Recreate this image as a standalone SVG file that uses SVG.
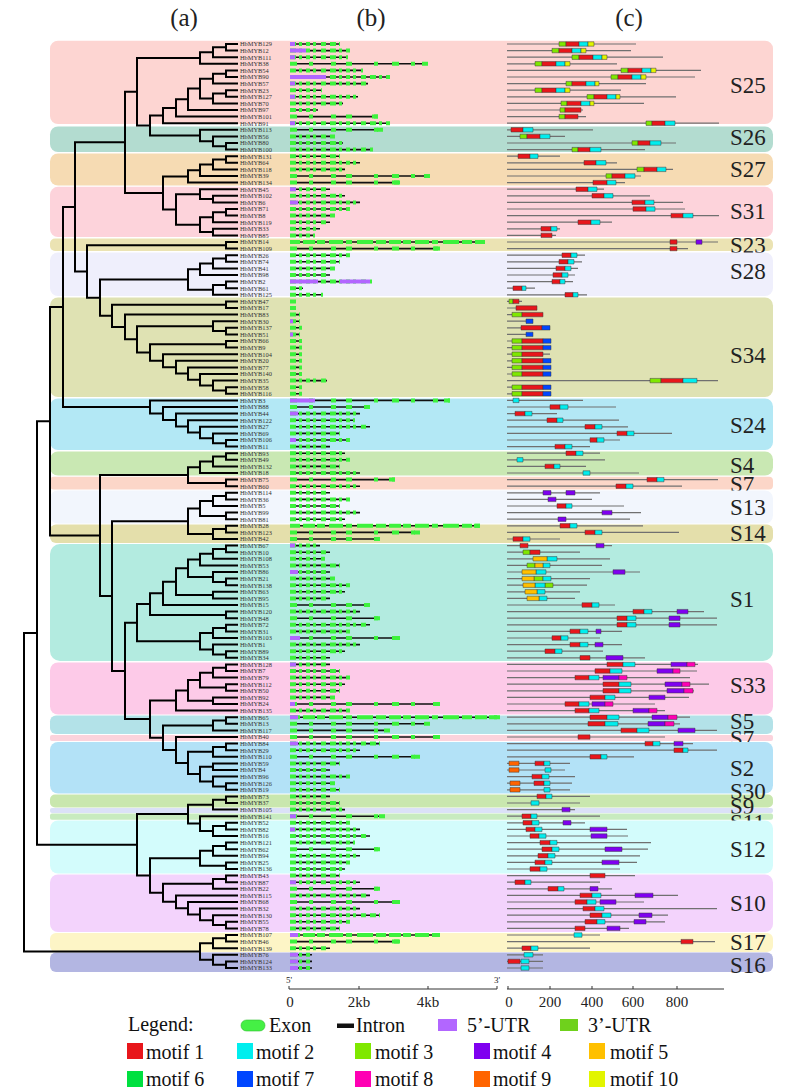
<svg xmlns="http://www.w3.org/2000/svg" width="790" height="1088" viewBox="0 0 790 1088">
<style>
.hd{font-family:"Liberation Serif",serif;font-size:25px;fill:#222;text-anchor:middle}
.sl{font-family:"Liberation Serif",serif;font-size:23px;fill:#222}
.tree{fill:none;stroke:#000;stroke-width:2}
.gl{font-family:"Liberation Serif",serif;font-size:6.4px;fill:#333}
.intron{fill:none;stroke:#111;stroke-width:1.6}
.ex{fill:none;stroke:#3df23d;stroke-width:4}
.exa{stroke-dasharray:6 3 3 4 4 3 3 5 5 4}
.exb{stroke-dasharray:7 12 4 18 5 10 6 22 4 14}
.exc{stroke-dasharray:10 3 12 2 8 4 14 3 6 5 16 3}
.utr{fill:none;stroke:#b266ff;stroke-width:4}
.mline{fill:none;stroke:#707070;stroke-width:1.2}
.m{stroke:#3a3a3a;stroke-width:0.5}
.m1{fill:#e8161b}.m2{fill:#00eeee}.m3{fill:#7fe800}.m4{fill:#7f00f0}.m5{fill:#ffc000}
.m6{fill:#00e040}.m7{fill:#0046ff}.m8{fill:#ff00b4}.m9{fill:#ff6400}.m10{fill:#e2f500}
.ax{fill:none;stroke:#333;stroke-width:1}
.tk{font-family:"Liberation Serif",serif;font-size:15px;fill:#222;text-anchor:middle}
.lg{font-family:"Liberation Serif",serif;font-size:20px;fill:#111}
</style>

<g id="headers">
<text class="hd" x="184" y="26">(a)</text>
<text class="hd" x="371" y="26">(b)</text>
<text class="hd" x="629" y="26">(c)</text>
</g>

<g id="subfamilies">
<g id="S25"><rect x="50" y="40.7" width="723" height="83.3" rx="8" fill="#fdd5d2"/><text class="sl" x="730" y="93">S25</text></g>
<g id="S26"><rect x="50" y="126.5" width="723" height="25.5" rx="8" fill="#b3dcd0"/><text class="sl" x="730" y="145">S26</text></g>
<g id="S27"><rect x="50" y="153.5" width="723" height="32" rx="8" fill="#f6dbb3"/><text class="sl" x="730" y="177">S27</text></g>
<g id="S31"><rect x="50" y="186.8" width="723" height="50.2" rx="8" fill="#fdd3db"/><text class="sl" x="730" y="219">S31</text></g>
<g id="S23"><rect x="50" y="238.5" width="723" height="12.5" rx="5" fill="#ebe3b3"/><text class="sl" x="730" y="253">S23</text></g>
<g id="S28"><rect x="50" y="252.5" width="723" height="43.5" rx="8" fill="#efeffc"/><text class="sl" x="730" y="279">S28</text></g>
<g id="S34"><rect x="50" y="297.5" width="723" height="99.5" rx="8" fill="#dfe2b3"/><text class="sl" x="730" y="363">S34</text></g>
<g id="S24"><rect x="50" y="398.5" width="723" height="51.5" rx="8" fill="#b3e8f5"/><text class="sl" x="730" y="433">S24</text></g>
<g id="S4"><rect x="50" y="451.5" width="723" height="24" rx="8" fill="#c9e8b3"/><text class="sl" x="730" y="473">S4</text></g>
<g id="S7a"><rect x="50" y="476.8" width="723" height="12.7" rx="4" fill="#fcd6c8"/><text class="sl" x="730" y="492">S7</text></g>
<g id="S13"><rect x="50" y="490.5" width="723" height="33" rx="8" fill="#f2f6fd"/><text class="sl" x="730" y="515">S13</text></g>
<g id="S14"><rect x="50" y="524.5" width="723" height="18.5" rx="6" fill="#e4dfab"/><text class="sl" x="730" y="541">S14</text></g>
<g id="S1"><rect x="50" y="544" width="723" height="117" rx="10" fill="#b3ebe0"/><text class="sl" x="730" y="607">S1</text></g>
<g id="S33"><rect x="50" y="662.5" width="723" height="52" rx="8" fill="#fdcae8"/><text class="sl" x="730" y="693">S33</text></g>
<g id="S5"><rect x="50" y="715.5" width="723" height="18.5" rx="6" fill="#b3e2e8"/><text class="sl" x="730" y="729">S5</text></g>
<g id="S7b"><rect x="50" y="735" width="723" height="6" rx="2" fill="#fcd3dc"/><text class="sl" x="730" y="746">S7</text></g>
<g id="S2"><rect x="50" y="742" width="723" height="51.5" rx="8" fill="#b3e2f7"/><text class="sl" x="730" y="776">S2</text></g>
<g id="S30"><rect x="50" y="794.5" width="723" height="13" rx="5" fill="#c9e7ae"/><text class="sl" x="730" y="799">S30</text></g>
<g id="S9"><rect x="50" y="808" width="723" height="5" rx="2" fill="#dbe1f7"/><text class="sl" x="730" y="814">S9</text></g>
<g id="S11"><rect x="50" y="813.5" width="723" height="6.3" rx="2" fill="#c8ebbf"/><text class="sl" x="730" y="830">S11</text></g>
<g id="S12"><rect x="50" y="820.5" width="723" height="53" rx="8" fill="#d3fcfc"/><text class="sl" x="730" y="857">S12</text></g>
<g id="S10"><rect x="50" y="874.5" width="723" height="57.5" rx="8" fill="#f3d3fc"/><text class="sl" x="730" y="911">S10</text></g>
<g id="S17"><rect x="50" y="933" width="723" height="19" rx="6" fill="#fdf5c6"/><text class="sl" x="730" y="950">S17</text></g>
<g id="S16"><rect x="50" y="952.5" width="723" height="19.5" rx="6" fill="#b3b6e2"/><text class="sl" x="730" y="973">S16</text></g>
</g>

<g id="connectors">
<path class="tree" d="M238 44H226V50.6H238M226 47.3H213V57.2H238M213 52.25H200V63.8H238M238 70.4H226V77H238M226 73.7H213V83.6H238M238 90.2H226V96.8H238M226 93.5H213V103.4H238M213 78.65H200V98.45H213M200 88.55H188V110H238M188 99.3H176V116.6H238M176 107.95H163V123.2H238M238 143H226V149.6H238M238 136.4H213V146.3H226M238 129.8H200V141.35H213M163 115.6H150V135.6H200M200 58H137V125.6H150M238 156.2H226V162.8H238M226 159.5H213V169.4H238M213 164.45H200V176H238M200 170.2H188V182.6H238M238 195.8H213V202.4H238M238 189.2H200V199.1H213M238 209H226V215.6H238M226 212.3H213V222.2H238M238 228.8H213V235.4H238M213 217.25H200V232.1H213M200 194.15H176V224.7H200M188 176.4H163V209.4H176M137 91.8H125V192.9H163M238 242H226V248.6H238M238 255.2H226V261.8H238M226 258.5H213V268.4H238M213 263.45H200V275H238M238 281.6H226V288.2H238M226 284.9H213V294.8H238M200 269.2H188V289.85H213M238 301.4H226V308H238M238 327.8H226V334.4H238M238 321.2H213V331.1H226M238 341H226V347.6H238M238 387.2H226V393.8H238M238 380.6H213V390.5H226M238 374H200V385.55H213M238 367.4H188V379.78H200M238 360.8H176V373.59H188M238 354.2H163V367.2H176M226 344.3H150V360.7H163M213 326.15H137V352.5H150M238 314.6H125V339.3H137M226 304.7H112V326.95H125M188 279.5H100V315.8H112M226 245.3H87V297.65H100M125 142.35H75V271.5H87M238 440H226V446.6H238M238 433.4H213V443.3H226M238 426.8H200V438.35H213M238 420.2H188V432.58H200M238 413.6H176V426.39H188M238 407H163V420H176M238 400.4H150V413.5H163M75 206.9H63V406.95H150M238 453.2H226V459.8H238M226 456.5H213V466.4H238M213 461.45H200V473H238M238 479.6H226V486.2H238M200 467.2H188V482.9H226M238 492.8H226V499.4H238M226 496.1H213V506H238M238 512.6H226V519.2H238M213 501.05H200V515.9H226M238 525.8H226V532.4H238M226 529.1H213V539H238M200 508.48H188V534.05H213M238 545.6H226V552.2H238M226 548.9H213V558.8H238M213 553.85H200V565.4H238M238 578.6H226V585.2H238M238 572H213V581.9H226M200 559.6H188V576.95H213M238 591.8H213V598.4H238M188 568.3H176V595.1H213M176 581.7H163V605H238M238 611.6H226V618.2H238M163 593.35H150V614.9H226M238 624.8H226V631.4H238M226 628.1H213V638H238M238 651.2H226V657.8H238M238 644.6H213V654.5H226M213 633.05H200V649.55H213M150 604.1H137V641.3H200M238 664.4H226V671H238M226 667.7H213V677.6H238M238 684.2H226V690.8H238M213 672.65H200V687.5H226M238 697.4H213V704H238M200 680.1H188V700.7H213M188 690.4H176V710.6H238M238 717.2H226V723.8H238M226 720.5H213V730.4H238M238 743.6H226V750.2H238M226 746.9H213V756.8H238M238 763.4H213V770H238M238 783.2H226V789.8H238M238 776.6H213V786.5H226M213 766.7H200V781.55H213M213 751.85H188V774.1H200M238 737H176V763H188M213 725.45H163V750H176M176 700.5H150V737.7H163M137 622.7H125V719.1H150M188 521.3H112V670.9H125M188 475.05H100V596.1H112M63 306.9H50V535.6H100M238 796.4H226V803H238M226 799.7H213V809.6H238M238 822.8H226V829.4H238M226 826.1H213V836H238M238 816.2H200V831.05H213M213 804.65H188V823.6H200M238 842.6H226V849.2H238M226 845.9H213V855.8H238M238 862.4H226V869H238M213 850.85H200V865.7H226M238 875.6H226V882.2H238M226 878.9H213V888.8H238M238 921.8H226V928.4H238M238 915.2H213V925.1H226M238 908.6H200V920.15H213M238 902H188V914.4H200M238 895.4H176V908.2H188M213 883.85H163V901.8H176M200 858.3H150V892.8H163M188 814.1H137V875.55H150M50 421.25H37V844.8H137M238 935H226V941.6H238M226 938.3H213V948.2H238M238 961.4H226V968H238M238 954.8H213V964.7H226M213 943.25H200V959.75H213M37 633H24V951.5H200"/>
</g>

<g id="gene-labels" class="gl">
<text x="240" y="46.3">HbMYB129</text><text x="240" y="52.9">HbMYB12</text><text x="240" y="59.5">HbMYB111</text><text x="240" y="66.1">HbMYB38</text><text x="240" y="72.7">HbMYB54</text><text x="240" y="79.3">HbMYB90</text><text x="240" y="85.9">HbMYB57</text><text x="240" y="92.5">HbMYB23</text><text x="240" y="99.1">HbMYB127</text><text x="240" y="105.7">HbMYB70</text><text x="240" y="112.3">HbMYB97</text><text x="240" y="118.9">HbMYB101</text><text x="240" y="125.5">HbMYB91</text><text x="240" y="132.1">HbMYB113</text><text x="240" y="138.7">HbMYB56</text><text x="240" y="145.3">HbMYB80</text><text x="240" y="151.9">HbMYB100</text><text x="240" y="158.5">HbMYB131</text><text x="240" y="165.1">HbMYB64</text><text x="240" y="171.7">HbMYB118</text><text x="240" y="178.3">HbMYB39</text><text x="240" y="184.9">HbMYB134</text><text x="240" y="191.5">HbMYB45</text><text x="240" y="198.1">HbMYB102</text><text x="240" y="204.7">HbMYB6</text><text x="240" y="211.3">HbMYB71</text><text x="240" y="217.9">HbMYB8</text><text x="240" y="224.5">HbMYB119</text><text x="240" y="231.1">HbMYB33</text><text x="240" y="237.7">HbMYB85</text><text x="240" y="244.3">HbMYB14</text><text x="240" y="250.9">HbMYB109</text><text x="240" y="257.5">HbMYB26</text><text x="240" y="264.1">HbMYB74</text><text x="240" y="270.7">HbMYB41</text><text x="240" y="277.3">HbMYB98</text><text x="240" y="283.9">HbMYB2</text><text x="240" y="290.5">HbMYB61</text><text x="240" y="297.1">HbMYB125</text><text x="240" y="303.7">HbMYB47</text><text x="240" y="310.3">HbMYB17</text><text x="240" y="316.9">HbMYB83</text><text x="240" y="323.5">HbMYB30</text><text x="240" y="330.1">HbMYB137</text><text x="240" y="336.7">HbMYB51</text><text x="240" y="343.3">HbMYB66</text><text x="240" y="349.9">HbMYB9</text><text x="240" y="356.5">HbMYB104</text><text x="240" y="363.1">HbMYB20</text><text x="240" y="369.7">HbMYB77</text><text x="240" y="376.3">HbMYB140</text><text x="240" y="382.9">HbMYB35</text><text x="240" y="389.5">HbMYB58</text><text x="240" y="396.1">HbMYB116</text><text x="240" y="402.7">HbMYB3</text><text x="240" y="409.3">HbMYB88</text><text x="240" y="415.9">HbMYB44</text><text x="240" y="422.5">HbMYB122</text><text x="240" y="429.1">HbMYB27</text><text x="240" y="435.7">HbMYB69</text><text x="240" y="442.3">HbMYB106</text><text x="240" y="448.9">HbMYB11</text><text x="240" y="455.5">HbMYB93</text><text x="240" y="462.1">HbMYB49</text><text x="240" y="468.7">HbMYB132</text><text x="240" y="475.3">HbMYB18</text><text x="240" y="481.9">HbMYB75</text><text x="240" y="488.5">HbMYB60</text><text x="240" y="495.1">HbMYB114</text><text x="240" y="501.7">HbMYB36</text><text x="240" y="508.3">HbMYB5</text><text x="240" y="514.9">HbMYB99</text><text x="240" y="521.5">HbMYB81</text><text x="240" y="528.1">HbMYB28</text><text x="240" y="534.7">HbMYB123</text><text x="240" y="541.3">HbMYB42</text><text x="240" y="547.9">HbMYB67</text><text x="240" y="554.5">HbMYB10</text><text x="240" y="561.1">HbMYB108</text><text x="240" y="567.7">HbMYB53</text><text x="240" y="574.3">HbMYB86</text><text x="240" y="580.9">HbMYB21</text><text x="240" y="587.5">HbMYB138</text><text x="240" y="594.1">HbMYB63</text><text x="240" y="600.7">HbMYB95</text><text x="240" y="607.3">HbMYB15</text><text x="240" y="613.9">HbMYB120</text><text x="240" y="620.5">HbMYB48</text><text x="240" y="627.1">HbMYB72</text><text x="240" y="633.7">HbMYB31</text><text x="240" y="640.3">HbMYB103</text><text x="240" y="646.9">HbMYB1</text><text x="240" y="653.5">HbMYB89</text><text x="240" y="660.1">HbMYB34</text><text x="240" y="666.7">HbMYB128</text><text x="240" y="673.3">HbMYB7</text><text x="240" y="679.9">HbMYB79</text><text x="240" y="686.5">HbMYB112</text><text x="240" y="693.1">HbMYB50</text><text x="240" y="699.7">HbMYB92</text><text x="240" y="706.3">HbMYB24</text><text x="240" y="712.9">HbMYB135</text><text x="240" y="719.5">HbMYB65</text><text x="240" y="726.1">HbMYB13</text><text x="240" y="732.7">HbMYB117</text><text x="240" y="739.3">HbMYB40</text><text x="240" y="745.9">HbMYB84</text><text x="240" y="752.5">HbMYB29</text><text x="240" y="759.1">HbMYB110</text><text x="240" y="765.7">HbMYB59</text><text x="240" y="772.3">HbMYB4</text><text x="240" y="778.9">HbMYB96</text><text x="240" y="785.5">HbMYB126</text><text x="240" y="792.1">HbMYB19</text><text x="240" y="798.7">HbMYB73</text><text x="240" y="805.3">HbMYB37</text><text x="240" y="811.9">HbMYB105</text><text x="240" y="818.5">HbMYB141</text><text x="240" y="825.1">HbMYB52</text><text x="240" y="831.7">HbMYB82</text><text x="240" y="838.3">HbMYB16</text><text x="240" y="844.9">HbMYB121</text><text x="240" y="851.5">HbMYB62</text><text x="240" y="858.1">HbMYB94</text><text x="240" y="864.7">HbMYB25</text><text x="240" y="871.3">HbMYB136</text><text x="240" y="877.9">HbMYB43</text><text x="240" y="884.5">HbMYB87</text><text x="240" y="891.1">HbMYB22</text><text x="240" y="897.7">HbMYB115</text><text x="240" y="904.3">HbMYB68</text><text x="240" y="910.9">HbMYB32</text><text x="240" y="917.5">HbMYB130</text><text x="240" y="924.1">HbMYB55</text><text x="240" y="930.7">HbMYB78</text><text x="240" y="937.3">HbMYB107</text><text x="240" y="943.9">HbMYB46</text><text x="240" y="950.5">HbMYB139</text><text x="240" y="957.1">HbMYB76</text><text x="240" y="963.7">HbMYB124</text><text x="240" y="970.3">HbMYB133</text>
</g>

<g id="gene-structures">
<path class="intron" d="M290 44H340M290 50.6H350M290 57.2H348M290 63.8H428M290 70.4H363M290 77H390M290 83.6H368M290 90.2H322M290 96.8H358M290 103.4H343M290 110H318M290 116.6H378M290 123.2H390M290 129.8H383M290 136.4H335M290 143H343M290 149.6H373M290 156.2H340M290 162.8H360M290 169.4H345M290 176H430M290 182.6H400M290 189.2H330M290 195.8H345M290 202.4H360M290 209H350M290 215.6H335M290 222.2H330M290 228.8H320M290 235.4H315M290 242H485M290 248.6H440M290 255.2H350M290 261.8H340M290 268.4H335M290 275H330M290 281.6H372M290 288.2H303M290 294.8H323M290 301.4H296M290 308H296M290 314.6H300M290 321.2H300M290 327.8H302M290 334.4H300M290 341H302M290 347.6H302M290 354.2H302M290 360.8H302M290 367.4H302M290 374H302M290 380.6H327M290 387.2H302M290 393.8H302M290 400.4H450M290 407H370M290 413.6H360M290 420.2H355M290 426.8H370M290 433.4H340M290 440H350M290 446.6H330M290 453.2H345M290 459.8H350M290 466.4H340M290 473H360M290 479.6H395M290 486.2H360M290 492.8H330M290 499.4H350M290 506H340M290 512.6H360M290 519.2H345M290 525.8H480M290 532.4H420M290 539H380M290 545.6H320M290 552.2H330M290 558.8H325M290 565.4H340M290 572H330M290 578.6H335M290 585.2H350M290 591.8H345M290 598.4H330M290 605H370M290 611.6H360M290 618.2H380M290 624.8H370M290 631.4H350M290 638H400M290 644.6H360M290 651.2H345M290 657.8H330M290 664.4H330M290 671H340M290 677.6H350M290 684.2H345M290 690.8H340M290 697.4H335M290 704H440M290 710.6H350M290 717.2H500M290 723.8H430M290 730.4H390M290 737H440M290 743.6H380M290 750.2H360M290 756.8H420M290 763.4H340M290 770H330M290 776.6H350M290 783.2H335M290 789.8H340M290 796.4H330M290 803H340M290 809.6H345M290 816.2H385M290 822.8H350M290 829.4H360M290 836H370M290 842.6H355M290 849.2H380M290 855.8H360M290 862.4H350M290 869H345M290 875.6H340M290 882.2H360M290 888.8H380M290 895.4H370M290 902H400M290 908.6H360M290 915.2H380M290 921.8H350M290 928.4H340M290 935H440M290 941.6H400M290 948.2H330M290 954.8H312M290 961.4H312M290 968H312"/>
<path class="ex exa" d="M290 44H340M290 50.6H350M290 57.2H348M290 70.4H363M290 77H390M290 83.6H368M290 90.2H322M290 96.8H358M290 103.4H343M290 110H318M290 123.2H390M290 136.4H335M290 143H343M290 149.6H373M290 156.2H340M290 162.8H360M290 169.4H345M290 189.2H330M290 195.8H345M290 202.4H360M290 209H350M290 215.6H335M290 222.2H330M290 228.8H320M290 235.4H315M290 255.2H350M290 261.8H340M290 268.4H335M290 275H330M290 281.6H372M290 288.2H303M290 294.8H323M290 301.4H296M290 308H296M290 314.6H300M290 321.2H300M290 327.8H302M290 334.4H300M290 341H302M290 347.6H302M290 354.2H302M290 360.8H302M290 367.4H302M290 374H302M290 380.6H327M290 387.2H302M290 393.8H302M290 413.6H360M290 420.2H355M290 426.8H370M290 433.4H340M290 440H350M290 446.6H330M290 453.2H345M290 459.8H350M290 466.4H340M290 473H360M290 486.2H360M290 492.8H330M290 499.4H350M290 506H340M290 512.6H360M290 519.2H345M290 545.6H320M290 552.2H330M290 558.8H325M290 565.4H340M290 572H330M290 578.6H335M290 585.2H350M290 591.8H345M290 598.4H330M290 611.6H360M290 624.8H370M290 631.4H350M290 644.6H360M290 651.2H345M290 657.8H330M290 664.4H330M290 671H340M290 677.6H350M290 684.2H345M290 690.8H340M290 697.4H335M290 710.6H350M290 743.6H380M290 750.2H360M290 763.4H340M290 770H330M290 776.6H350M290 783.2H335M290 789.8H340M290 796.4H330M290 803H340M290 809.6H345M290 822.8H350M290 829.4H360M290 836H370M290 842.6H355M290 855.8H360M290 862.4H350M290 869H345M290 875.6H340M290 882.2H360M290 895.4H370M290 908.6H360M290 915.2H380M290 921.8H350M290 928.4H340M290 948.2H330M290 954.8H312M290 961.4H312M290 968H312"/>
<path class="ex exb" d="M290 63.8H428M290 116.6H378M290 129.8H383M290 176H430M290 182.6H400M290 248.6H440M290 400.4H450M290 407H370M290 479.6H395M290 532.4H420M290 539H380M290 605H370M290 618.2H380M290 638H400M290 704H440M290 723.8H430M290 730.4H390M290 737H440M290 756.8H420M290 816.2H385M290 849.2H380M290 888.8H380M290 902H400M290 941.6H400"/>
<path class="ex exc" d="M290 242H485M290 525.8H480M290 717.2H500M290 935H440"/>
<path class="ex" d="M422 63.8H428M372 116.6H378M377 129.8H383M424 176H430M394 182.6H400M434 248.6H440M444 400.4H450M364 407H370M389 479.6H395M414 532.4H420M374 539H380M364 605H370M374 618.2H380M394 638H400M434 704H440M424 723.8H430M384 730.4H390M434 737H440M414 756.8H420M379 816.2H385M374 849.2H380M374 888.8H380M394 902H400M394 941.6H400M479 242H485M474 525.8H480M494 717.2H500M434 935H440"/>
<path class="utr" d="M290 44h5M290 50.6h16M290 57.2h5M290 77h36M290 83.6h5M290 96.8h5M290 123.2h5M290 189.2h6M290 202.4h8M290 281.6h28M340 281.6h30M290 321.2h3M290 334.4h3M290 400.4h25M290 413.6h8M290 440h6M290 545.6h5M290 572h8M290 638h10M290 664.4h6M290 704h5M290 717.2h8M290 743.6h8M290 816.2h6M290 829.4h5M290 882.2h6M290 935h8M290 954.8h8M290 961.4h8M290 968h8"/>
</g>

<g id="motifs">
<path class="mline" d="M507 44H636M507 50.6H631M507 57.2H663M507 63.8H617M507 70.4H701M507 77H695M507 83.6H646M507 90.2H621M507 96.8H676M507 103.4H644M507 110H583M507 116.6H586M507 123.2H719M507 129.8H593M507 136.4H565M507 143H676M507 149.6H645M507 156.2H560M507 162.8H617M507 169.4H673M507 176H641M507 182.6H625M507 189.2H604M507 195.8H650M507 202.4H683M507 209H685M507 215.6H719M507 222.2H612M507 228.8H560M507 235.4H556M507 242H718M507 248.6H688M507 255.2H585M507 261.8H582M507 268.4H578M507 275H575M507 281.6H573M507 288.2H535M507 294.8H587M507 301.4H522M507 308H537M507 314.6H543M507 321.2H533M507 327.8H550M507 334.4H533M507 341H551M507 347.6H551M507 354.2H550M507 360.8H551M507 367.4H551M507 374H551M507 380.6H718M507 387.2H551M507 393.8H551M507 400.4H583M507 407H616M507 413.6H557M507 420.2H619M507 426.8H628M507 433.4H672M507 440H620M507 446.6H590M507 453.2H600M507 459.8H605M507 466.4H586M507 473H639M507 479.6H718M507 486.2H682M507 492.8H600M507 499.4H592M507 506H624M507 512.6H641M507 519.2H630M507 525.8H643M507 532.4H679M507 539H560M507 545.6H612M507 552.2H580M507 558.8H610M507 565.4H602M507 572H640M507 578.6H590M507 585.2H587M507 591.8H580M507 598.4H575M507 605H615M507 611.6H704M507 618.2H717M507 624.8H717M507 631.4H622M507 638H600M507 644.6H622M507 651.2H603M507 657.8H645M507 664.4H698M507 671H697M507 677.6H690M507 684.2H709M507 690.8H694M507 697.4H689M507 704H655M507 710.6H665M507 717.2H690M507 723.8H680M507 730.4H717M507 737H665M507 743.6H693M507 750.2H717M507 756.8H634M507 763.4H570M507 770H565M507 776.6H575M507 783.2H572M507 789.8H570M507 796.4H590M507 803H580M507 809.6H575M507 816.2H600M507 822.8H585M507 829.4H627M507 836H628M507 842.6H651M507 849.2H648M507 855.8H640M507 862.4H637M507 869H620M507 875.6H635M507 882.2H600M507 888.8H612M507 895.4H678M507 902H644M507 908.6H717M507 915.2H668M507 921.8H665M507 928.4H629M507 935H600M507 941.6H715M507 948.2H590M507 954.8H543M507 961.4H543M507 968H543"/>
<path class="m m3" d="M559 41.8h7v4.4h-7zM552 48.4h7v4.4h-7zM572 55h7v4.4h-7zM535 61.6h7v4.4h-7zM621 68.2h7v4.4h-7zM611 74.8h7v4.4h-7zM566 81.4h6v4.4h-6zM535 88h7v4.4h-7zM587 94.6h7v4.4h-7zM561 101.2h6v4.4h-6zM560 107.8h5v4.4h-5zM559 114.4h6v4.4h-6zM646 121h6v4.4h-6zM520 134.2h7v4.4h-7zM632 140.8h6v4.4h-6zM572 147.4h6v4.4h-6zM637 167.2h7v4.4h-7zM606 173.8h6v4.4h-6zM509 299.2h4v4.4h-4zM512 312.4h10v4.4h-10zM512 338.8h10v4.4h-10zM512 345.4h10v4.4h-10zM512 352h10v4.4h-10zM512 358.6h10v4.4h-10zM512 365.2h10v4.4h-10zM512 371.8h10v4.4h-10zM650 378.4h11v4.4h-11zM512 385h10v4.4h-10zM512 391.6h10v4.4h-10zM523 550h7v4.4h-7zM527 563.2h8v4.4h-8zM534 576.4h9v4.4h-9zM545 583h8v4.4h-8z"/>
<path class="m m1" d="M566 41.8h13v4.4h-13zM559 48.4h13v4.4h-13zM579 55h14v4.4h-14zM542 61.6h14v4.4h-14zM628 68.2h14v4.4h-14zM618 74.8h14v4.4h-14zM572 81.4h14v4.4h-14zM542 88h14v4.4h-14zM594 94.6h13v4.4h-13zM567 101.2h14v4.4h-14zM565 107.8h16v4.4h-16zM565 114.4h13v4.4h-13zM652 121h13v4.4h-13zM511 127.6h12v4.4h-12zM527 134.2h13v4.4h-13zM638 140.8h12v4.4h-12zM578 147.4h12v4.4h-12zM518 154h12v4.4h-12zM584 160.6h12v4.4h-12zM644 167.2h13v4.4h-13zM612 173.8h13v4.4h-13zM593 180.4h14v4.4h-14zM576 187h12v4.4h-12zM592 193.6h12v4.4h-12zM632 200.2h13v4.4h-13zM633 206.8h13v4.4h-13zM671 213.4h12v4.4h-12zM578 220h13v4.4h-13zM541 226.6h10v4.4h-10zM541 233.2h11v4.4h-11zM670 239.8h7v4.4h-7zM670 246.4h7v4.4h-7zM562 253h9v4.4h-9zM559 259.6h9v4.4h-9zM556 266.2h9v4.4h-9zM553 272.8h9v4.4h-9zM552 279.4h8v4.4h-8zM513 286h9v4.4h-9zM565 292.6h8v4.4h-8zM513 299.2h6v4.4h-6zM516 305.8h21v4.4h-21zM522 312.4h21v4.4h-21zM521 325.6h21v4.4h-21zM522 338.8h21v4.4h-21zM522 345.4h21v4.4h-21zM522 352h21v4.4h-21zM522 358.6h21v4.4h-21zM522 365.2h21v4.4h-21zM522 371.8h21v4.4h-21zM661 378.4h22v4.4h-22zM522 385h21v4.4h-21zM522 391.6h21v4.4h-21zM550 404.8h10v4.4h-10zM515 411.4h10v4.4h-10zM547 418h10v4.4h-10zM585 424.6h10v4.4h-10zM617 431.2h10v4.4h-10zM590 437.8h7v4.4h-7zM555 444.4h10v4.4h-10zM566 451h10v4.4h-10zM545 464.2h9v4.4h-9zM647 477.4h10v4.4h-10zM616 484h10v4.4h-10zM557 503.8h9v4.4h-9zM560 523.6h10v4.4h-10zM585 530.2h10v4.4h-10zM513 536.8h10v4.4h-10zM520 543.4h8v4.4h-8zM530 550h10v4.4h-10zM582 602.8h10v4.4h-10zM633 609.4h11v4.4h-11zM617 616h10v4.4h-10zM617 622.6h10v4.4h-10zM570 629.2h10v4.4h-10zM552 635.8h9v4.4h-9zM570 642.4h10v4.4h-10zM545 649h10v4.4h-10zM580 655.6h10v4.4h-10zM607 662.2h16v4.4h-16zM595 668.8h15v4.4h-15zM575 675.4h14v4.4h-14zM603 682h16v4.4h-16zM603 688.6h16v4.4h-16zM590 695.2h15v4.4h-15zM565 701.8h14v4.4h-14zM575 708.4h14v4.4h-14zM590 715h17v4.4h-17zM588 721.6h17v4.4h-17zM621 728.2h16v4.4h-16zM578 734.8h12v4.4h-12zM645 741.4h8v4.4h-8zM674 748h9v4.4h-9zM590 754.6h11v4.4h-11zM535 761.2h9v4.4h-9zM532 774.4h10v4.4h-10zM534 781h10v4.4h-10zM537 794.2h9v4.4h-9zM522 814h9v4.4h-9zM523 820.6h9v4.4h-9zM526 827.2h9v4.4h-9zM530 833.8h9v4.4h-9zM540 840.4h10v4.4h-10zM542 847h10v4.4h-10zM538 853.6h10v4.4h-10zM535 860.2h10v4.4h-10zM530 866.8h10v4.4h-10zM590 873.4h15v4.4h-15zM515 880h10v4.4h-10zM548 886.6h10v4.4h-10zM580 893.2h12v4.4h-12zM575 899.8h12v4.4h-12zM583 906.4h12v4.4h-12zM590 913h12v4.4h-12zM585 919.6h12v4.4h-12zM575 926.2h10v4.4h-10zM681 939.4h12v4.4h-12zM522 946h9v4.4h-9zM508 959.2h12v4.4h-12z"/>
<path class="m m2" d="M579 41.8h9v4.4h-9zM572 48.4h9v4.4h-9zM593 55h9v4.4h-9zM556 61.6h9v4.4h-9zM642 68.2h9v4.4h-9zM632 74.8h9v4.4h-9zM586 81.4h9v4.4h-9zM556 88h9v4.4h-9zM607 94.6h9v4.4h-9zM581 101.2h9v4.4h-9zM665 121h10v4.4h-10zM523 127.6h10v4.4h-10zM540 134.2h10v4.4h-10zM650 140.8h11v4.4h-11zM590 147.4h11v4.4h-11zM530 154h8v4.4h-8zM596 160.6h10v4.4h-10zM657 167.2h9v4.4h-9zM625 173.8h10v4.4h-10zM607 180.4h9v4.4h-9zM588 187h9v4.4h-9zM604 193.6h9v4.4h-9zM645 200.2h9v4.4h-9zM646 206.8h9v4.4h-9zM683 213.4h10v4.4h-10zM591 220h9v4.4h-9zM551 226.6h6v4.4h-6zM571 253h6v4.4h-6zM568 259.6h6v4.4h-6zM565 266.2h6v4.4h-6zM562 272.8h6v4.4h-6zM560 279.4h5v4.4h-5zM522 286h4v4.4h-4zM573 292.6h5v4.4h-5zM683 378.4h14v4.4h-14zM513 398.2h6v4.4h-6zM560 404.8h8v4.4h-8zM525 411.4h7v4.4h-7zM557 418h6v4.4h-6zM595 424.6h7v4.4h-7zM627 431.2h7v4.4h-7zM597 437.8h7v4.4h-7zM565 444.4h7v4.4h-7zM576 451h7v4.4h-7zM517 457.6h6v4.4h-6zM554 464.2h6v4.4h-6zM583 470.8h7v4.4h-7zM657 477.4h7v4.4h-7zM626 484h7v4.4h-7zM566 503.8h6v4.4h-6zM570 523.6h7v4.4h-7zM595 530.2h7v4.4h-7zM523 536.8h7v4.4h-7zM547 556.6h10v4.4h-10zM543 563.2h7v4.4h-7zM536 569.8h10v4.4h-10zM543 576.4h8v4.4h-8zM535 583h10v4.4h-10zM537 589.6h8v4.4h-8zM539 596.2h8v4.4h-8zM592 602.8h7v4.4h-7zM644 609.4h8v4.4h-8zM627 616h9v4.4h-9zM627 622.6h9v4.4h-9zM580 629.2h8v4.4h-8zM561 635.8h7v4.4h-7zM580 642.4h8v4.4h-8zM555 649h7v4.4h-7zM623 662.2h12v4.4h-12zM610 668.8h12v4.4h-12zM589 675.4h10v4.4h-10zM619 682h12v4.4h-12zM619 688.6h12v4.4h-12zM605 695.2h10v4.4h-10zM579 701.8h10v4.4h-10zM589 708.4h10v4.4h-10zM607 715h12v4.4h-12zM605 721.6h13v4.4h-13zM637 728.2h12v4.4h-12zM653 741.4h7v4.4h-7zM683 748h5v4.4h-5zM601 754.6h6v4.4h-6zM544 761.2h6v4.4h-6zM545 767.8h6v4.4h-6zM542 774.4h7v4.4h-7zM544 781h6v4.4h-6zM544 787.6h6v4.4h-6zM546 794.2h6v4.4h-6zM531 800.8h8v4.4h-8zM531 814h6v4.4h-6zM532 820.6h7v4.4h-7zM535 827.2h7v4.4h-7zM539 833.8h7v4.4h-7zM550 840.4h7v4.4h-7zM552 847h7v4.4h-7zM548 853.6h7v4.4h-7zM545 860.2h7v4.4h-7zM540 866.8h7v4.4h-7zM525 880h6v4.4h-6zM558 886.6h6v4.4h-6zM592 893.2h9v4.4h-9zM587 899.8h9v4.4h-9zM595 906.4h9v4.4h-9zM602 913h9v4.4h-9zM597 919.6h8v4.4h-8zM574 932.8h8v4.4h-8zM531 946h7v4.4h-7zM524 952.6h9v4.4h-9zM521 959.2h8v4.4h-8zM521 965.8h8v4.4h-8z"/>
<path class="m m4" d="M696 239.8h6v4.4h-6zM543 490.6h8v4.4h-8zM566 490.6h9v4.4h-9zM548 497.2h8v4.4h-8zM602 510.4h10v4.4h-10zM558 517h8v4.4h-8zM596 543.4h8v4.4h-8zM613 569.8h12v4.4h-12zM677 609.4h11v4.4h-11zM669 616h11v4.4h-11zM669 622.6h11v4.4h-11zM596 629.2h5v4.4h-5zM595 642.4h8v4.4h-8zM606 655.6h17v4.4h-17zM671 662.2h16v4.4h-16zM657 668.8h16v4.4h-16zM603 675.4h16v4.4h-16zM665 682h17v4.4h-17zM667 688.6h17v4.4h-17zM649 695.2h16v4.4h-16zM592 701.8h13v4.4h-13zM633 708.4h16v4.4h-16zM652 715h16v4.4h-16zM648 721.6h17v4.4h-17zM678 728.2h17v4.4h-17zM674 741.4h9v4.4h-9zM562 807.4h8v4.4h-8zM563 820.6h8v4.4h-8zM590 827.2h17v4.4h-17zM591 833.8h16v4.4h-16zM605 847h17v4.4h-17zM602 860.2h17v4.4h-17zM590 886.6h8v4.4h-8zM635 893.2h18v4.4h-18zM600 899.8h16v4.4h-16zM639 913h13v4.4h-13zM634 919.6h12v4.4h-12zM607 926.2h13v4.4h-13z"/>
<path class="m m5" d="M533 556.6h14v4.4h-14zM535 563.2h8v4.4h-8zM522 569.8h14v4.4h-14zM522 576.4h12v4.4h-12zM523 583h12v4.4h-12zM525 589.6h12v4.4h-12zM527 596.2h12v4.4h-12z"/>
<path class="m m7" d="M526 319h7v4.4h-7zM542 325.6h8v4.4h-8zM526 332.2h7v4.4h-7zM543 338.8h8v4.4h-8zM543 345.4h8v4.4h-8zM543 358.6h8v4.4h-8zM543 365.2h8v4.4h-8zM543 371.8h8v4.4h-8zM543 385h8v4.4h-8zM543 391.6h8v4.4h-8z"/>
<path class="m m8" d="M687 662.2h8v4.4h-8zM673 668.8h7v4.4h-7zM619 675.4h8v4.4h-8zM682 682h8v4.4h-8zM684 688.6h9v4.4h-9zM605 701.8h8v4.4h-8zM649 708.4h8v4.4h-8zM668 715h9v4.4h-9zM665 721.6h9v4.4h-9z"/>
<path class="m m9" d="M509 761.2h10v4.4h-10zM509 767.8h10v4.4h-10zM510 781h10v4.4h-10zM510 787.6h10v4.4h-10z"/>
<path class="m m10" d="M588 41.8h6v4.4h-6zM581 48.4h5v4.4h-5zM602 55h5v4.4h-5zM565 61.6h5v4.4h-5zM651 68.2h5v4.4h-5zM641 74.8h5v4.4h-5zM595 81.4h4v4.4h-4zM565 88h5v4.4h-5zM616 94.6h4v4.4h-4zM590 101.2h4v4.4h-4z"/>
</g>

<g id="scales">
<path class="ax" d="M289 989H497M289 989v-3M359 989v-3M428 989v-3M497 989v-3M507 989H724M508 989v-3M550 989v-3M592 989v-3M633 989v-3M677 989v-3"/>
<text x="286" y="983" font-family="Liberation Serif, serif" font-size="9" fill="#222">5'</text>
<text x="494" y="983" font-family="Liberation Serif, serif" font-size="9" fill="#222">3'</text>
<text class="tk" x="290" y="1007">0</text>
<text class="tk" x="359" y="1007">2kb</text>
<text class="tk" x="428" y="1007">4kb</text>
<text class="tk" x="509" y="1007">0</text>
<text class="tk" x="550" y="1007">200</text>
<text class="tk" x="592" y="1007">400</text>
<text class="tk" x="633" y="1007">600</text>
<text class="tk" x="677" y="1007">800</text>
</g>

<g id="legend">
<text class="lg" x="128" y="1031" font-size="21">Legend:</text>
<rect x="241" y="1020" width="24" height="11" rx="5.5" fill="#45f045" stroke="#2fc02f" stroke-width="0.6"/>
<text class="lg" x="269" y="1032">Exon</text>
<rect x="337" y="1023.5" width="17" height="4.5" fill="#111"/>
<text class="lg" x="356" y="1032">Intron</text>
<rect x="438" y="1019" width="19" height="12" fill="#b266ff"/>
<text class="lg" x="467" y="1032">5’-UTR</text>
<rect x="560" y="1019" width="18" height="12" fill="#6fd11c"/>
<text class="lg" x="588" y="1032">3’-UTR</text>
<rect class="m1" x="127" y="1043" width="16" height="16"/><text class="lg" x="146" y="1059">motif 1</text>
<rect class="m2" x="237" y="1043" width="16" height="16"/><text class="lg" x="256" y="1059">motif 2</text>
<rect class="m3" x="355" y="1043" width="16" height="16"/><text class="lg" x="375" y="1059">motif 3</text>
<rect class="m4" x="474" y="1043" width="16" height="16"/><text class="lg" x="493" y="1059">motif 4</text>
<rect class="m5" x="589" y="1043" width="16" height="16"/><text class="lg" x="610" y="1059">motif 5</text>
<rect class="m6" x="127" y="1071" width="16" height="16"/><text class="lg" x="146" y="1086">motif 6</text>
<rect class="m7" x="237" y="1071" width="16" height="16"/><text class="lg" x="256" y="1086">motif 7</text>
<rect class="m8" x="355" y="1071" width="16" height="16"/><text class="lg" x="375" y="1086">motif 8</text>
<rect class="m9" x="474" y="1071" width="16" height="16"/><text class="lg" x="493" y="1086">motif 9</text>
<rect class="m10" x="589" y="1071" width="16" height="16"/><text class="lg" x="610" y="1086">motif 10</text>
</g>
</svg>
